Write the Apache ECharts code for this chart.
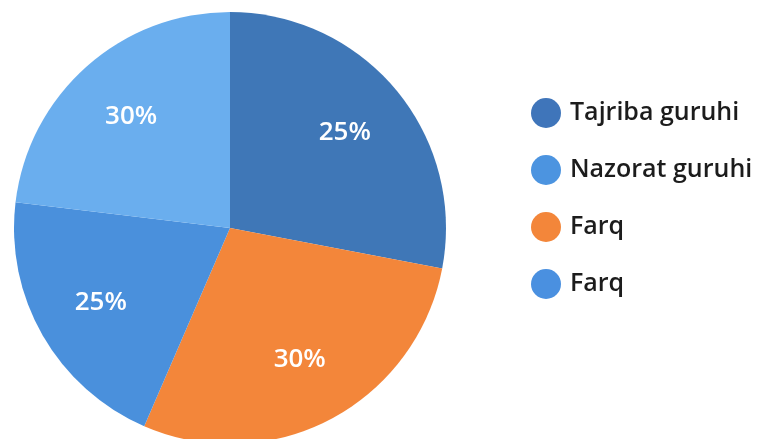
<!DOCTYPE html>
<html>
<head>
<meta charset="utf-8">
<script src="https://cdn.jsdelivr.net/npm/echarts@6/dist/echarts.min.js"></script>
<style>html,body{margin:0;padding:0;background:#fff;}#c{width:766px;height:439px;}</style>
</head>
<body>
<div id="c"></div>
<script>
// Slices clockwise from 12 o'clock
var categories = ['Tajriba guruhi', 'Farq', 'Farq ', 'Nazorat guruhi'];
// Shares measured from the slice angles in the picture
var values = [28.0, 28.5, 20.4, 23.1];
// Percent labels printed on the slices
var sliceLabels = ['25%', '30%', '25%', '30%'];
var legendOrder = ['Tajriba guruhi', 'Nazorat guruhi', 'Farq', 'Farq '];

var sliceColors = ['#3f77b7', '#f3863a', '#4a90dc', '#6aaeee'];
var legendColors = {'Tajriba guruhi': '#3f75ba', 'Nazorat guruhi': '#4c94e0', 'Farq': '#f3863a', 'Farq ': '#4a90e0'};

var data = categories.map(function (n, i) {
  return {name: n, value: values[i], itemStyle: {color: sliceColors[i]}};
});
var labelData = categories.map(function (n, i) {
  return {name: n, value: values[i], label: {formatter: sliceLabels[i]}};
});

var chart = echarts.init(document.getElementById('c'), null, {renderer: 'canvas'});
chart.setOption({
  animation: false,
  backgroundColor: '#ffffff',
  legend: {
    orient: 'vertical',
    left: 526,
    top: 93,
    icon: 'circle',
    itemWidth: 30,
    itemHeight: 30,
    itemGap: 27,
    selectedMode: false,
    textStyle: {fontFamily: 'Open Sans', fontSize: 25, fontWeight: 600, color: '#1c1c1c', padding: [0, 0, 0, 4]},
    data: legendOrder.map(function (n) { return {name: n, itemStyle: {color: legendColors[n]}}; })
  },
  series: [
    {
      type: 'pie',
      center: [230, 228],
      radius: [0, 216],
      startAngle: 90,
      clockwise: true,
      silent: true,
      label: {show: false},
      labelLine: {show: false},
      data: data
    },
    {
      type: 'pie',
      center: [230, 228],
      radius: [76, 216],
      startAngle: 90,
      clockwise: true,
      silent: true,
      itemStyle: {color: 'rgba(0,0,0,0)'},
      label: {show: true, position: 'inside', color: '#ffffff', fontFamily: 'Open Sans', fontSize: 26, fontWeight: 600},
      labelLine: {show: false},
      data: labelData
    }
  ]
});
</script>
</body>
</html>
